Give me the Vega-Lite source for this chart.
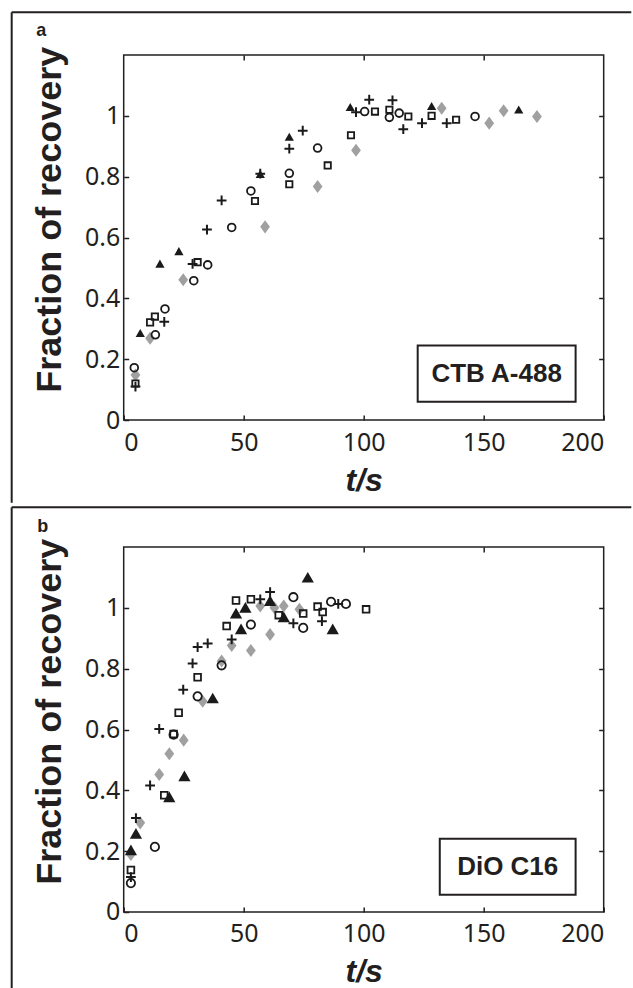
{
  "$schema": "https://vega.github.io/schema/vega-lite/v6.json",
  "background": "white",
  "padding": {"left": 9.7, "top": 10, "right": 0, "bottom": 0},
  "spacing": 0,
  "datasets": {
    "pa": [
      {"s": "tri", "t": 6.9, "f": 0.285}, {"s": "tri", "t": 15.1, "f": 0.513}, {"s": "tri", "t": 23, "f": 0.554}, {"s": "tri", "t": 56.9, "f": 0.808}, {"s": "tri", "t": 69, "f": 0.93}, {"s": "tri", "t": 94.4, "f": 1.028}, {"s": "tri", "t": 128.3, "f": 1.031}, {"s": "tri", "t": 164.6, "f": 1.02},
      {"s": "plus", "t": 4.9, "f": 0.11}, {"s": "plus", "t": 16.9, "f": 0.323}, {"s": "plus", "t": 28.7, "f": 0.513}, {"s": "plus", "t": 34.7, "f": 0.626}, {"s": "plus", "t": 40.8, "f": 0.722}, {"s": "plus", "t": 56.9, "f": 0.81}, {"s": "plus", "t": 69, "f": 0.892}, {"s": "plus", "t": 74.6, "f": 0.951}, {"s": "plus", "t": 96.8, "f": 1.012}, {"s": "plus", "t": 102.3, "f": 1.053}, {"s": "plus", "t": 112, "f": 1.051}, {"s": "plus", "t": 116.5, "f": 0.956}, {"s": "plus", "t": 124.3, "f": 0.976}, {"s": "plus", "t": 134.6, "f": 0.976},
      {"s": "circ", "t": 4.4, "f": 0.172}, {"s": "circ", "t": 13.2, "f": 0.28}, {"s": "circ", "t": 17.2, "f": 0.365}, {"s": "circ", "t": 29.2, "f": 0.458}, {"s": "circ", "t": 35, "f": 0.51}, {"s": "circ", "t": 45, "f": 0.633}, {"s": "circ", "t": 53, "f": 0.753}, {"s": "circ", "t": 69, "f": 0.811}, {"s": "circ", "t": 80.8, "f": 0.894}, {"s": "circ", "t": 100.4, "f": 1.014}, {"s": "circ", "t": 110.7, "f": 0.995}, {"s": "circ", "t": 114.8, "f": 1.009}, {"s": "circ", "t": 146.4, "f": 0.998},
      {"s": "sq", "t": 4.9, "f": 0.12}, {"s": "sq", "t": 11, "f": 0.321}, {"s": "sq", "t": 13, "f": 0.34}, {"s": "sq", "t": 30.8, "f": 0.519}, {"s": "sq", "t": 54.7, "f": 0.72}, {"s": "sq", "t": 69, "f": 0.775}, {"s": "sq", "t": 85, "f": 0.837}, {"s": "sq", "t": 94.7, "f": 0.936}, {"s": "sq", "t": 104.7, "f": 1.014}, {"s": "sq", "t": 110.7, "f": 1.02}, {"s": "sq", "t": 118.6, "f": 0.998}, {"s": "sq", "t": 128.3, "f": 1.0}, {"s": "sq", "t": 138.5, "f": 0.987},
      {"s": "dia", "t": 4.9, "f": 0.148}, {"s": "dia", "t": 11, "f": 0.269}, {"s": "dia", "t": 24.8, "f": 0.461}, {"s": "dia", "t": 58.9, "f": 0.635}, {"s": "dia", "t": 80.8, "f": 0.768}, {"s": "dia", "t": 96.8, "f": 0.887}, {"s": "dia", "t": 132.5, "f": 1.025}, {"s": "dia", "t": 152.3, "f": 0.976}, {"s": "dia", "t": 158.3, "f": 1.017}, {"s": "dia", "t": 172.2, "f": 0.998}
    ],
    "pb": [
      {"s": "tri", "t": 3, "f": 0.203}, {"s": "tri", "t": 5.1, "f": 0.257}, {"s": "tri", "t": 19, "f": 0.377}, {"s": "tri", "t": 25.3, "f": 0.446}, {"s": "tri", "t": 37.1, "f": 0.702}, {"s": "tri", "t": 46.8, "f": 0.981}, {"s": "tri", "t": 48.9, "f": 0.929}, {"s": "tri", "t": 50.7, "f": 1.0}, {"s": "tri", "t": 61, "f": 1.022}, {"s": "tri", "t": 66.7, "f": 0.969}, {"s": "tri", "t": 76.7, "f": 1.099}, {"s": "tri", "t": 87.1, "f": 0.929},
      {"s": "plus", "t": 3, "f": 0.115}, {"s": "plus", "t": 5.1, "f": 0.309}, {"s": "plus", "t": 11, "f": 0.416}, {"s": "plus", "t": 14.8, "f": 0.602}, {"s": "plus", "t": 24.8, "f": 0.731}, {"s": "plus", "t": 28.7, "f": 0.817}, {"s": "plus", "t": 30.8, "f": 0.871}, {"s": "plus", "t": 35, "f": 0.883}, {"s": "plus", "t": 45, "f": 0.896}, {"s": "plus", "t": 56.9, "f": 1.028}, {"s": "plus", "t": 61, "f": 1.052}, {"s": "plus", "t": 70.7, "f": 0.949}, {"s": "plus", "t": 82.6, "f": 0.956}, {"s": "plus", "t": 89.4, "f": 1.013},
      {"s": "circ", "t": 3, "f": 0.095}, {"s": "circ", "t": 13, "f": 0.214}, {"s": "circ", "t": 20.8, "f": 0.583}, {"s": "circ", "t": 30.8, "f": 0.709}, {"s": "circ", "t": 40.8, "f": 0.811}, {"s": "circ", "t": 53, "f": 0.945}, {"s": "circ", "t": 70.7, "f": 1.035}, {"s": "circ", "t": 74.8, "f": 0.934}, {"s": "circ", "t": 86.4, "f": 1.02}, {"s": "circ", "t": 92.6, "f": 1.013},
      {"s": "sq", "t": 3, "f": 0.138}, {"s": "sq", "t": 16.9, "f": 0.384}, {"s": "sq", "t": 20.8, "f": 0.585}, {"s": "sq", "t": 22.9, "f": 0.655}, {"s": "sq", "t": 30.8, "f": 0.772}, {"s": "sq", "t": 42.9, "f": 0.94}, {"s": "sq", "t": 46.8, "f": 1.024}, {"s": "sq", "t": 53, "f": 1.028}, {"s": "sq", "t": 64.6, "f": 0.976}, {"s": "sq", "t": 74.8, "f": 0.981}, {"s": "sq", "t": 80.8, "f": 1.004}, {"s": "sq", "t": 82.9, "f": 0.986}, {"s": "sq", "t": 101, "f": 0.995},
      {"s": "dia", "t": 3, "f": 0.189}, {"s": "dia", "t": 6.9, "f": 0.293}, {"s": "dia", "t": 14.8, "f": 0.452}, {"s": "dia", "t": 19, "f": 0.52}, {"s": "dia", "t": 25, "f": 0.565}, {"s": "dia", "t": 32.9, "f": 0.693}, {"s": "dia", "t": 40.8, "f": 0.825}, {"s": "dia", "t": 45, "f": 0.876}, {"s": "dia", "t": 53, "f": 0.86}, {"s": "dia", "t": 56.9, "f": 1.006}, {"s": "dia", "t": 61, "f": 0.912}, {"s": "dia", "t": 62.8, "f": 1.0}, {"s": "dia", "t": 66.7, "f": 1.006}, {"s": "dia", "t": 73.2, "f": 0.995}
    ]
  },
  "vconcat": [
    {
      "width": 480,
      "height": 365,
      "data": {"name": "pa"},
      "resolve": {"axis": {"x": "independent", "y": "independent"}},
      "layer": [
        {
          "data": {"values": [{}]},
          "mark": {"type": "rule", "clip": false, "color": "#231f20", "strokeWidth": 2},
          "encoding": {
            "x": {"datum": -46.67, "type": "quantitative", "axis": null},
            "y": {"datum": 1.3402, "type": "quantitative", "axis": null},
            "y2": {"datum": -0.272}
          }
        },
        {
          "data": {"values": [{}]},
          "mark": {"type": "rule", "clip": false, "color": "#231f20", "strokeWidth": 2},
          "encoding": {
            "x": {"datum": -46.67, "type": "quantitative", "axis": null},
            "x2": {"datum": 211.5},
            "y": {"datum": 1.3402, "type": "quantitative", "axis": null}
          }
        },
        {
          "data": {"values": [{}]},
          "mark": {"type": "text", "clip": false, "text": "a", "font": "Liberation Sans", "fontWeight": "bold", "fontSize": 18, "align": "center", "baseline": "alphabetic", "color": "#231f20"},
          "encoding": {
            "x": {"datum": -34.4, "type": "quantitative", "axis": null},
            "y": {"datum": 1.261, "type": "quantitative", "axis": null}
          }
        },
        {
          "data": {"values": [{}]},
          "mark": {"type": "rect", "fill": "white", "stroke": "#231f20", "strokeWidth": 2},
          "encoding": {
            "x": {"datum": 122.5, "type": "quantitative", "axis": null},
            "x2": {"datum": 188.3},
            "y": {"datum": 0.245, "type": "quantitative", "axis": null},
            "y2": {"datum": 0.06}
          }
        },
        {
          "data": {"values": [{}]},
          "mark": {"type": "text", "text": "CTB A-488", "font": "Liberation Sans", "fontWeight": "bold", "fontSize": 26, "align": "center", "baseline": "middle", "color": "#231f20"},
          "encoding": {
            "x": {"datum": 155.4, "type": "quantitative", "axis": null},
            "y": {"datum": 0.152, "type": "quantitative", "axis": null}
          }
        },
        {
          "transform": [{"filter": "datum.s === 'dia'"}],
          "mark": {"type": "point", "shape": "M0,-1L0.75,0L0,1L-0.75,0Z", "filled": true, "color": "#a0a0a0", "size": 170, "opacity": 1},
          "encoding": {
            "x": {"field": "t", "type": "quantitative", "scale": {"domain": [0, 200], "nice": false},
              "axis": {"orient": "bottom", "values": [0, 50, 100, 150, 200], "tickSize": -5, "labelPadding": 15, "domain": false, "title": "t/s", "titleFontStyle": "italic", "titleFontWeight": "bold", "titleFontSize": 32, "titleX": 240, "titleY": 70, "titleAlign": "center", "titleBaseline": "alphabetic"}},
            "y": {"field": "f", "type": "quantitative", "scale": {"domain": [0, 1.2], "nice": false},
              "axis": {"orient": "left", "values": [0, 0.2, 0.4, 0.6, 0.8, 1], "format": "~g", "tickSize": -5, "labelPadding": 9, "domain": false, "title": "Fraction of recovery", "titleFontWeight": "bold", "titleFontSize": 36, "titleX": -62.7, "titleY": 164.3, "titleAngle": -90, "titleAlign": "center", "titleBaseline": "alphabetic"}}
          }
        },
        {
          "transform": [{"filter": "datum.s === 'sq'"}],
          "mark": {"type": "point", "shape": "square", "filled": false, "color": "#1a1a1a", "strokeWidth": 1.8, "size": 40, "opacity": 1},
          "encoding": {
            "x": {"field": "t", "type": "quantitative", "axis": {"orient": "top", "values": [50, 100, 150], "tickSize": -5, "labels": false, "domain": false, "title": null}},
            "y": {"field": "f", "type": "quantitative", "axis": {"orient": "right", "values": [0.2, 0.4, 0.6, 0.8, 1], "tickSize": -5, "labels": false, "domain": false, "title": null}}
          }
        },
        {
          "transform": [{"filter": "datum.s === 'circ'"}],
          "mark": {"type": "point", "shape": "circle", "filled": false, "color": "#1a1a1a", "strokeWidth": 1.8, "size": 60, "opacity": 1},
          "encoding": {
            "x": {"field": "t", "type": "quantitative", "axis": null},
            "y": {"field": "f", "type": "quantitative", "axis": null}
          }
        },
        {
          "transform": [{"filter": "datum.s === 'plus'"}],
          "mark": {"type": "point", "shape": "M-1,0L1,0M0,-1L0,1", "filled": false, "color": "#1a1a1a", "strokeWidth": 2, "size": 95, "opacity": 1},
          "encoding": {
            "x": {"field": "t", "type": "quantitative", "axis": null},
            "y": {"field": "f", "type": "quantitative", "axis": null}
          }
        },
        {
          "transform": [{"filter": "datum.s === 'tri'"}],
          "mark": {"type": "point", "shape": "M0,-0.95L1,0.8L-1,0.8Z", "filled": true, "color": "#1a1a1a", "size": 85, "opacity": 1},
          "encoding": {
            "x": {"field": "t", "type": "quantitative", "axis": null},
            "y": {"field": "f", "type": "quantitative", "axis": null}
          }
        }
      ]
    },
    {
      "width": 480,
      "height": 365,
      "data": {"name": "pb"},
      "resolve": {"axis": {"x": "independent", "y": "independent"}},
      "layer": [
        {
          "data": {"values": [{}]},
          "mark": {"type": "rule", "clip": false, "color": "#231f20", "strokeWidth": 2},
          "encoding": {
            "x": {"datum": -46.67, "type": "quantitative", "axis": null},
            "y": {"datum": 1.3304, "type": "quantitative", "axis": null},
            "y2": {"datum": -0.259}
          }
        },
        {
          "data": {"values": [{}]},
          "mark": {"type": "rule", "clip": false, "color": "#231f20", "strokeWidth": 2},
          "encoding": {
            "x": {"datum": -46.67, "type": "quantitative", "axis": null},
            "x2": {"datum": 211.5},
            "y": {"datum": 1.3304, "type": "quantitative", "axis": null}
          }
        },
        {
          "data": {"values": [{}]},
          "mark": {"type": "text", "clip": false, "text": "b", "font": "Liberation Sans", "fontWeight": "bold", "fontSize": 18, "align": "center", "baseline": "alphabetic", "color": "#231f20"},
          "encoding": {
            "x": {"datum": -33.75, "type": "quantitative", "axis": null},
            "y": {"datum": 1.248, "type": "quantitative", "axis": null}
          }
        },
        {
          "data": {"values": [{}]},
          "mark": {"type": "rect", "fill": "white", "stroke": "#231f20", "strokeWidth": 2},
          "encoding": {
            "x": {"datum": 131.7, "type": "quantitative", "axis": null},
            "x2": {"datum": 188.3},
            "y": {"datum": 0.241, "type": "quantitative", "axis": null},
            "y2": {"datum": 0.057}
          }
        },
        {
          "data": {"values": [{}]},
          "mark": {"type": "text", "text": "DiO C16", "font": "Liberation Sans", "fontWeight": "bold", "fontSize": 26, "align": "center", "baseline": "middle", "color": "#231f20"},
          "encoding": {
            "x": {"datum": 160, "type": "quantitative", "axis": null},
            "y": {"datum": 0.149, "type": "quantitative", "axis": null}
          }
        },
        {
          "transform": [{"filter": "datum.s === 'dia'"}],
          "mark": {"type": "point", "shape": "M0,-1L0.75,0L0,1L-0.75,0Z", "filled": true, "color": "#a0a0a0", "size": 170, "opacity": 1},
          "encoding": {
            "x": {"field": "t", "type": "quantitative", "scale": {"domain": [0, 200], "nice": false},
              "axis": {"orient": "bottom", "values": [0, 50, 100, 150, 200], "tickSize": -5, "labelPadding": 15, "domain": false, "title": "t/s", "titleFontStyle": "italic", "titleFontWeight": "bold", "titleFontSize": 32, "titleX": 240, "titleY": 70, "titleAlign": "center", "titleBaseline": "alphabetic"}},
            "y": {"field": "f", "type": "quantitative", "scale": {"domain": [0, 1.2], "nice": false},
              "axis": {"orient": "left", "values": [0, 0.2, 0.4, 0.6, 0.8, 1], "format": "~g", "tickSize": -5, "labelPadding": 9, "domain": false, "title": "Fraction of recovery", "titleFontWeight": "bold", "titleFontSize": 36, "titleX": -62.7, "titleY": 164.3, "titleAngle": -90, "titleAlign": "center", "titleBaseline": "alphabetic"}}
          }
        },
        {
          "transform": [{"filter": "datum.s === 'sq'"}],
          "mark": {"type": "point", "shape": "square", "filled": false, "color": "#1a1a1a", "strokeWidth": 1.8, "size": 45, "opacity": 1},
          "encoding": {
            "x": {"field": "t", "type": "quantitative", "axis": {"orient": "top", "values": [50, 100, 150], "tickSize": -5, "labels": false, "domain": false, "title": null}},
            "y": {"field": "f", "type": "quantitative", "axis": {"orient": "right", "values": [0.2, 0.4, 0.6, 0.8, 1], "tickSize": -5, "labels": false, "domain": false, "title": null}}
          }
        },
        {
          "transform": [{"filter": "datum.s === 'circ'"}],
          "mark": {"type": "point", "shape": "circle", "filled": false, "color": "#1a1a1a", "strokeWidth": 1.8, "size": 70, "opacity": 1},
          "encoding": {
            "x": {"field": "t", "type": "quantitative", "axis": null},
            "y": {"field": "f", "type": "quantitative", "axis": null}
          }
        },
        {
          "transform": [{"filter": "datum.s === 'plus'"}],
          "mark": {"type": "point", "shape": "M-1,0L1,0M0,-1L0,1", "filled": false, "color": "#1a1a1a", "strokeWidth": 2, "size": 95, "opacity": 1},
          "encoding": {
            "x": {"field": "t", "type": "quantitative", "axis": null},
            "y": {"field": "f", "type": "quantitative", "axis": null}
          }
        },
        {
          "transform": [{"filter": "datum.s === 'tri'"}],
          "mark": {"type": "point", "shape": "M0,-0.95L1,0.8L-1,0.8Z", "filled": true, "color": "#1a1a1a", "size": 150, "opacity": 1},
          "encoding": {
            "x": {"field": "t", "type": "quantitative", "axis": null},
            "y": {"field": "f", "type": "quantitative", "axis": null}
          }
        }
      ]
    }
  ],
  "config": {
    "view": {"stroke": "#231f20", "strokeWidth": 1.5},
    "axis": {"labelFont": "Noto Sans", "labelFontSize": 25, "labelColor": "#231f20", "tickColor": "#231f20", "tickWidth": 1.5, "titleColor": "#231f20", "titleFont": "Liberation Sans", "grid": false}
  }
}
